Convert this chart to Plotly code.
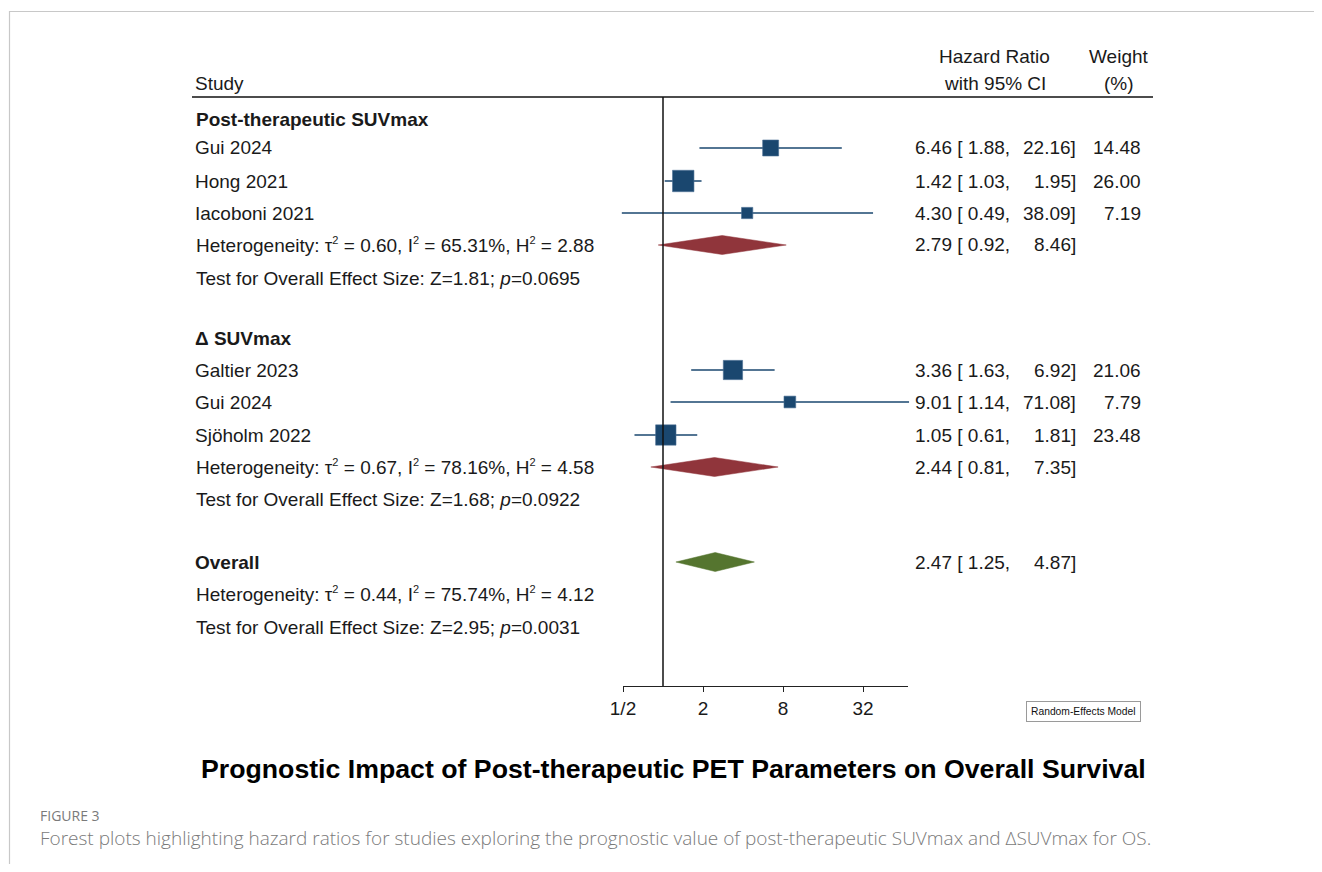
import math
import plotly.graph_objects as go

# ---------------- data ----------------
group_names = ["Post-therapeutic SUVmax", "Δ SUVmax"]
studies = ["Gui 2024", "Hong 2021", "Iacoboni 2021", "Galtier 2023", "Gui 2024", "Sjöholm 2022"]
hr = [6.46, 1.42, 4.30, 3.36, 9.01, 1.05]
ci_lo = [1.88, 1.03, 0.49, 1.63, 1.14, 0.61]
ci_hi = [22.16, 1.95, 38.09, 6.92, 71.08, 1.81]
weight = [14.48, 26.00, 7.19, 21.06, 7.79, 23.48]

pooled_hr = [2.79, 2.44, 2.47]
pooled_lo = [0.92, 0.81, 1.25]
pooled_hi = [8.46, 7.35, 4.87]
tau2 = ["0.60", "0.67", "0.44"]
i2 = ["65.31", "78.16", "75.74"]
h2 = ["2.88", "4.58", "4.12"]
z_val = ["1.81", "1.68", "2.95"]
p_val = ["0.0695", "0.0922", "0.0031"]

tick_vals = [0.5, 2, 8, 32]
tick_text = ["1/2", "2", "8", "32"]

title_text = "Prognostic Impact of Post-therapeutic PET Parameters on Overall Survival"
fig_label = "FIGURE 3"
caption = ("Forest plots highlighting hazard ratios for studies exploring the prognostic value "
           "of post-therapeutic SUVmax and ΔSUVmax for OS.")

# ---------------- layout geometry (screen pixels) ----------------
OFF = 8                       # default page body margin
SW, SH = 1322, 872
W, H = SW - 2 * OFF, SH - 2 * OFF

study_rows = [148, 181, 213, 370, 402, 435]
group_rows = [119, 338]
pooled_rows = [245, 467, 562]
het_rows = [245, 467, 594]
test_rows = [278, 499, 627]
axis_px = 686
rule_px = 97
x_half_px = 623       # screen pixel of HR = 1/2
x_end_px = 908        # end of the axis line
px_per_log10 = 40 / math.log10(2)

navy = "#1A476F"
maroon = "#90353B"
green = "#55752F"
font_main = "Liberation Sans, Arial, sans-serif"
fs = 19
col_text_left = 196
col_hr_left = 915
col_hr_right = 1075
col_w_right = 1140
PAD = 2.5   # annotation inner padding compensation


def fx(px):
    return (px - OFF) / W


def fy(py):
    return 1 - (py - OFF) / H


def sup(s):
    return "<sup><span style='font-size:11px'>" + s + "</span></sup>"


l0 = math.log10(0.5)
full_range = [l0 - (x_half_px - OFF) / px_per_log10, l0 + (OFF + W - x_half_px) / px_per_log10]
axis_range = [l0, l0 + (x_end_px - x_half_px) / px_per_log10]

fig = go.Figure()

# CI lines
for i in range(len(studies)):
    fig.add_trace(go.Scatter(
        x=[ci_lo[i], ci_hi[i]], y=[study_rows[i], study_rows[i]],
        mode="lines", line=dict(color=navy, width=1.3),
        hoverinfo="skip", xaxis="x", yaxis="y"))

# squares (area proportional to weight)
fig.add_trace(go.Scatter(
    x=hr, y=study_rows, mode="markers", opacity=1,
    marker=dict(symbol="square", color=navy, opacity=1,
                size=[4.2 * math.sqrt(w) for w in weight],
                line=dict(width=0.6, color="#4a6f93")),
    text=studies, hoverinfo="text+x", cliponaxis=False, xaxis="x", yaxis="y"))

# diamonds
dcolors = [maroon, maroon, green]
half_h = 9.5
for k in range(3):
    r = pooled_rows[k]
    fig.add_trace(go.Scatter(
        x=[pooled_lo[k], pooled_hr[k], pooled_hi[k], pooled_hr[k], pooled_lo[k]],
        y=[r, r - half_h, r, r + half_h, r],
        mode="lines", fill="toself", fillcolor=dcolors[k],
        line=dict(color=dcolors[k], width=0.5),
        hoverinfo="skip", xaxis="x", yaxis="y"))

# null line (HR = 1) on the visible axis
fig.add_trace(go.Scatter(
    x=[1, 1], y=[rule_px, axis_px], mode="lines",
    line=dict(color="#111111", width=1.5), hoverinfo="skip",
    xaxis="x2", yaxis="y"))

ann = []


def text(x, y, s, anchor="left", size=fs, bold=False, color="#1a1a1a",
         family=font_main, weight=None):
    if bold:
        s = "<b>" + s + "</b>"
    f = dict(family=family, size=size, color=color)
    if weight is not None:
        f["weight"] = weight
    if anchor == "left":
        x -= PAD
    elif anchor == "right":
        x += PAD
    ann.append(dict(x=fx(x), y=fy(y), xref="paper", yref="paper",
                    text=s, showarrow=False, xanchor=anchor, yanchor="middle", font=f))


# header
text(col_text_left, 83, "Study")
text(995, 57, "Hazard Ratio", anchor="center")
text(995, 83, "with 95% CI", anchor="center")
text(1119, 57, "Weight", anchor="center")
text(1119, 83, "(%)", anchor="center")

for g in range(2):
    text(col_text_left, group_rows[g], group_names[g], bold=True)
text(col_text_left, pooled_rows[2], "Overall", bold=True)

for i in range(len(studies)):
    r = study_rows[i]
    text(col_text_left, r, studies[i])
    text(col_hr_left, r, f"{hr[i]:.2f} [ {ci_lo[i]:.2f},")
    text(col_hr_right, r, f"{ci_hi[i]:.2f}]", anchor="right")
    text(col_w_right, r, f"{weight[i]:.2f}", anchor="right")

for k in range(3):
    text(col_text_left, het_rows[k],
         f"Heterogeneity: τ{sup('2')} = {tau2[k]}, I{sup('2')} = {i2[k]}%, H{sup('2')} = {h2[k]}")
    text(col_text_left, test_rows[k],
         f"Test for Overall Effect Size: Z={z_val[k]}; <i>p</i>={p_val[k]}")
    r = pooled_rows[k]
    text(col_hr_left, r, f"{pooled_hr[k]:.2f} [ {pooled_lo[k]:.2f},")
    text(col_hr_right, r, f"{pooled_hi[k]:.2f}]", anchor="right")

# model box
ann.append(dict(x=fx(1083.5), y=fy(711.5), xref="paper", yref="paper",
                text="Random-Effects Model", showarrow=False, xanchor="center", yanchor="middle",
                font=dict(family=font_main, size=10.3, color="#111"),
                bordercolor="#9a9a9a", borderwidth=1, borderpad=4, bgcolor="white"))

# title & caption
text(673, 769, title_text, anchor="center", size=26.7, bold=True, color="#000")
text(40, 815, fig_label, size=14, color="#7a7a7a", family="Open Sans, sans-serif")
text(40, 838, caption, size=19.0, color="#7a7a7a", family="Open Sans, sans-serif", weight=300)

shapes = [
    dict(type="line", xref="paper", yref="paper", x0=fx(192), x1=fx(1153),
         y0=fy(rule_px), y1=fy(rule_px), line=dict(color="#111", width=1.5)),
    dict(type="line", xref="paper", yref="paper", x0=fx(9.5), x1=fx(9.5),
         y0=fy(11), y1=0, line=dict(color="#c8c8c8", width=1.2)),
    dict(type="line", xref="paper", yref="paper", x0=fx(9), x1=1,
         y0=fy(11.5), y1=fy(11.5), line=dict(color="#c8c8c8", width=1.2)),
]

fig.update_layout(
    width=W, height=H, autosize=False, margin=dict(l=0, r=0, t=0, b=0, pad=0),
    paper_bgcolor="white", plot_bgcolor="rgba(0,0,0,0)", showlegend=False,
    xaxis=dict(type="log", domain=[0, 1], range=full_range, visible=False, fixedrange=True,
               automargin=False),
    xaxis2=dict(type="log", domain=[fx(x_half_px), fx(x_end_px)], range=axis_range,
                anchor="y", tickvals=tick_vals, ticktext=tick_text,
                ticks="outside", ticklen=5, tickwidth=1, tickcolor="#222",
                showline=True, linecolor="#222", linewidth=1.2, showgrid=False, zeroline=False,
                fixedrange=True, automargin=False,
                tickfont=dict(family=font_main, size=fs, color="#1a1a1a")),
    yaxis=dict(domain=[fy(axis_px), 1], range=[axis_px, OFF], visible=False,
               fixedrange=True, automargin=False),
    annotations=ann, shapes=shapes,
)

fig.write_html("out.html")
